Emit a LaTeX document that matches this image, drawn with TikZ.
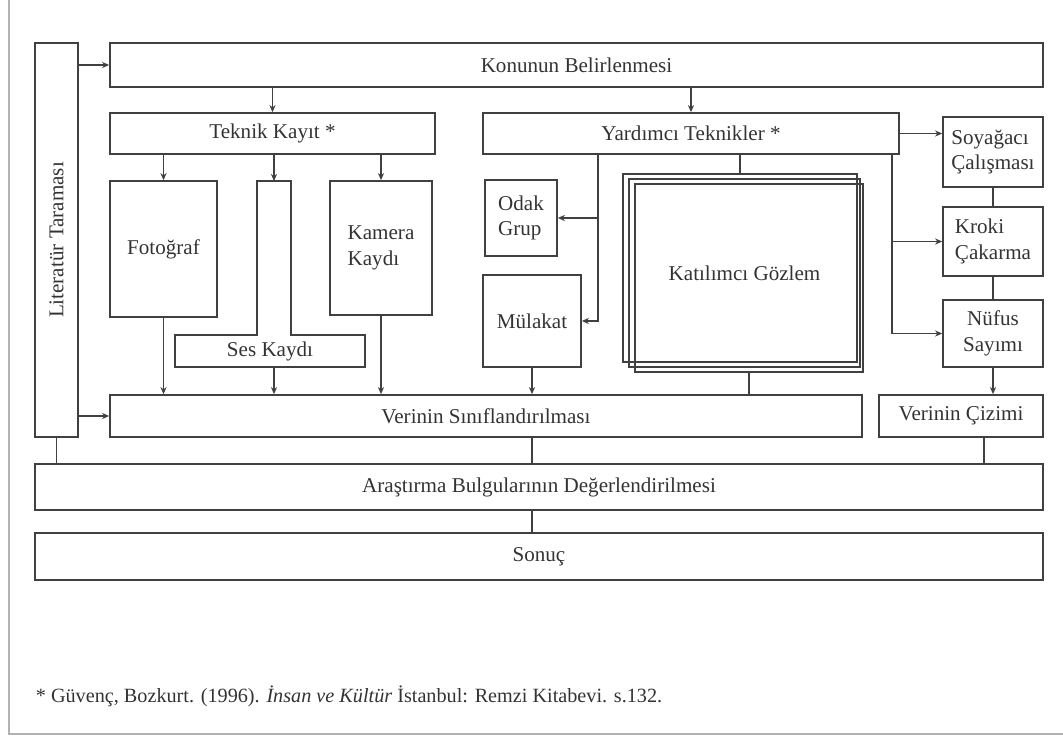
\documentclass[tikz,border=0pt]{standalone}
\usepackage{fontspec}
\setmainfont{Liberation Serif}
\usetikzlibrary{
  arrows.meta, % Stealth 箭头
  calc,        % 坐标计算
  fit,         % 用两个角点确定方框
  positioning  % 节点相对定位
}

\begin{document}
\begin{tikzpicture}[>=Stealth, x=0.02cm, y=-0.02cm, line width=1pt, text=black!80,
    font=\fontsize{12}{14.5}\selectfont] % 1 个单位 = 原图 1 像素，y 轴向下
  \tikzset{
    kutu/.style={draw=black!75, inner sep=0pt}, % 带边框的方框，文字用 label 放在正中
    bos/.style={inner sep=0pt}, % 不画边框的文字
    ok/.style={draw=black!75, -{Stealth[length=4pt, width=3.5pt]}}, % 带箭头的连线
    cizgi/.style={draw=black!75} % 不带箭头的连线
  }
  \useasboundingbox (0,0) rectangle (1063,738); % 固定整张图的大小
  \draw[black!30] (9,0) -- (9,734) -- (1063,734); % 扫描页的左边和下边

  % 第一层
  \node[kutu, fit={(35,43) (78,437)}, label={[rotate=90]center:Literatür Taraması}] (lit) {}; % 左侧竖条，竖排文字
  \node[kutu, fit={(110,43) (1043,87)}, label=center:Konunun Belirlenmesi] (konu) {};
  \node[kutu, fit={(110,113) (435,154)}, label=center:Teknik Kayıt *] (teknik) {};
  \node[kutu, fit={(483,113) (899,154)}, label=center:Yardımcı Teknikler *] (yardimci) {};

  % 技术记录
  \node[kutu, fit={(110,181) (217,317)}, label=center:Fotoğraf] (foto) {};
  \node[kutu, fit={(330,181) (432,315)}, label={[align=left]center:Kamera\\Kaydı}] (kamera) {};
  \draw[cizgi] (257,181) -- (291,181) -- (291,335) -- (365,335) -- (365,367)
    -- (175,367) -- (175,335) -- (257,335) -- cycle; % 直接画出 T 形外轮廓
  \node[bos] (ses) at (270,351) {Ses Kaydı};
  \coordinate (sesust) at (274,181); % T 形竖条的上端
  \coordinate (sesalt) at (274,367); % T 形横条的下端

  % 辅助技术
  \node[kutu, fit={(485,180) (557,256)}, label={[align=left]center:Odak\\Grup}] (odak) {};
  \node[kutu, fit={(483,275) (581,367)}, label=center:Mülakat] (mulakat) {};
  \node[kutu, fit={(635,184) (863,372)}] (kat3) {}; % 三层叠放的方框
  \node[kutu, fit={(629,179) (860,367)}, label=center:Katılımcı Gözlem] (kat2) {};
  \node[kutu, fit={(623,174) (857,362)}] (kat1) {};
  \node[kutu, fit={(943,117) (1043,187)}, label={[align=left]center:Soyağacı\\Çalışması}] (soy) {};
  \node[kutu, fit={(943,207) (1043,276)}, label={[align=left]center:Kroki\\Çakarma}] (kroki) {};
  \node[kutu, fit={(943,300) (1043,367)}, label={[align=center]center:Nüfus\\Sayımı}] (nufus) {};

  % 下部
  \node[kutu, fit={(110,395) (862,437)}, label=center:Verinin Sınıflandırılması] (verinin) {};
  \node[kutu, fit={(879,395) (1043,437)}, label=center:Verinin Çizimi] (cizim) {};
  \node[kutu, fit={(35,464) (1043,510)}, label=center:Araştırma Bulgularının Değerlendirilmesi] (arastirma) {};
  \node[kutu, fit={(35,533) (1043,580)}, label=center:Sonuç] (sonuc) {};
  \node[bos, anchor=base west, font=\fontsize{11.5}{13}\selectfont] (dipnot) at (35,702)
    {* Güvenç, Bozkurt. (1996). \textit{İnsan ve Kültür} İstanbul: Remzi Kitabevi. s.132.}; % 脚注

  % 连线
  \draw[ok] (lit.east |- konu.west) -- (konu.west);
  \draw[ok] (lit.east |- verinin.west) -- (verinin.west);
  \draw[ok] (konu.south -| teknik) -- (teknik.north);
  \draw[ok] (konu.south -| yardimci) -- (yardimci.north);
  \draw[ok] (teknik.south -| foto) -- (foto.north);
  \draw[ok] (teknik.south -| sesust) -- (sesust);
  \draw[ok] (teknik.south -| kamera) -- (kamera.north);
  \draw[ok] (foto.south) -- (foto.south |- verinin.north);
  \draw[ok] (sesalt) -- (sesalt |- verinin.north);
  \draw[ok] (kamera.south) -- (kamera.south |- verinin.north);

  \coordinate (solkol) at (598,318); % 左侧分支竖线
  \draw[ok] (yardimci.south -| solkol) |- (mulakat.east);
  \draw[ok] (odak.east -| solkol) -- (odak.east);
  \draw[cizgi] (yardimci.south -| kat1) -- (kat1.north);
  \draw[ok] (mulakat.south) -- (mulakat.south |- verinin.north);
  \draw[cizgi] (kat3.south) -- (kat3.south |- verinin.north);

  \coordinate (sagkol) at (892,154); % 右侧分支竖线
  \draw[ok] (yardimci.east) -- (yardimci.east -| soy.west);
  \draw[ok] (sagkol) |- (nufus.west);
  \draw[ok] (kroki.west -| sagkol) -- (kroki.west);
  \draw[cizgi] (soy.south) -- (kroki.north);
  \draw[cizgi] (kroki.south) -- (nufus.north);
  \draw[ok] (nufus.south) -- (nufus.south |- cizim.north);

  \coordinate (cizimalt) at (984,437);
  \draw[cizgi] (lit.south) -- (lit.south |- arastirma.north);
  \draw[cizgi] (verinin.south -| mulakat) -- (arastirma.north -| mulakat);
  \draw[cizgi] (cizimalt) -- (cizimalt |- arastirma.north);
  \draw[cizgi] (arastirma.south -| mulakat) -- (sonuc.north -| mulakat);
\end{tikzpicture}
\end{document}
